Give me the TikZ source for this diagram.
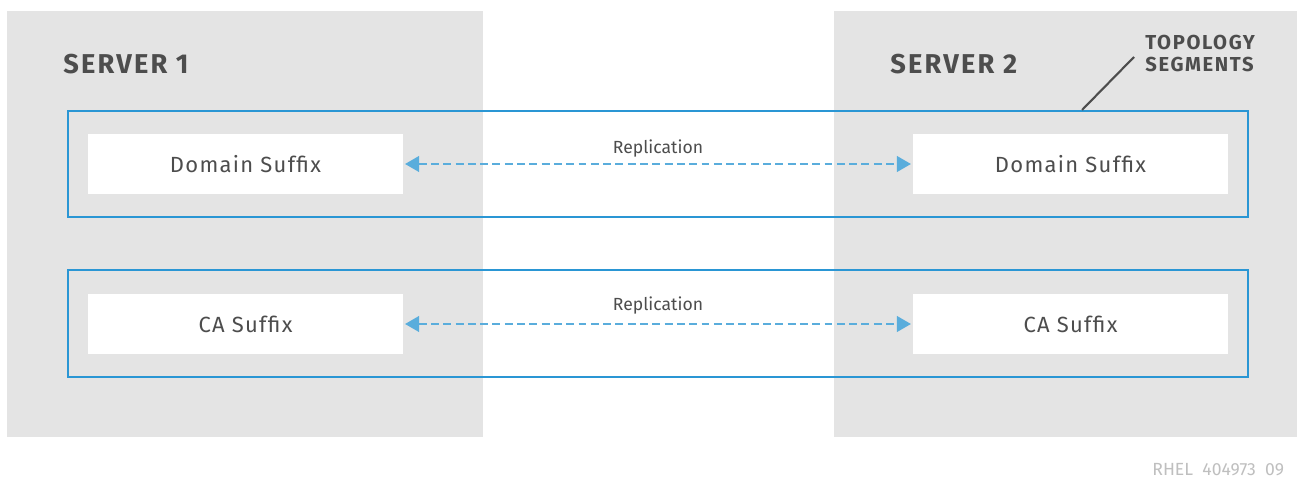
\documentclass[tikz,border=0pt]{standalone}
\usepackage{fontspec}
\setmainfont{Fira Sans}
\newfontfamily\widefont[LetterSpace=6]{Fira Sans}
\newfontfamily\headfont[LetterSpace=8]{Fira Sans}
\newfontfamily\notefont[LetterSpace=8]{Fira Sans}
\usetikzlibrary{arrows.meta}

\definecolor{panelgray}{HTML}{E4E4E4}
\definecolor{segblue}{HTML}{2A96D4}
\definecolor{repblue}{HTML}{5AADDC}
\definecolor{textgray}{HTML}{4D4D4D}

\tikzset{
  panel/.style={fill=panelgray, draw=none},
  segment/.style={draw=segblue, line width=1.2pt},
  suffix/.style={fill=white, draw=none, minimum width=6.3cm, minimum height=1.2cm,
    inner sep=0pt, text=textgray, font=\widefont\fontsize{12.5}{14}\selectfont},
  server/.style={text=textgray, font=\headfont\fontsize{15.5}{17}\selectfont\bfseries, inner sep=0pt},
  repl/.style={draw=repblue, line width=1pt, dash pattern=on 4.5pt off 2.5pt,
    {Triangle[length=8pt,width=9pt]}-{Triangle[length=8pt,width=9pt]}, shorten <=1pt, shorten >=1pt},
  repllabel/.style={text=textgray, font=\fontsize{10}{12}\selectfont, inner sep=0pt}
}

\begin{document}
\begin{tikzpicture}[x=0.02cm, y=-0.02cm]
\useasboundingbox (0,0) rectangle (1297,479);
\fill[white] (0,0) rectangle (1297,479);

% server panels
\fill[panel] (7,11) rectangle (483,437);
\fill[panel] (834,11) rectangle (1297,437);
\node[server, anchor=west] (srv1) at (63,64) {SERVER 1};
\node[server, anchor=west] (srv2) at (890,64) {SERVER 2};

% topology segments
\draw[segment] (68,111) rectangle (1248,217);
\draw[segment] (68,270) rectangle (1248,377);
\node[server, anchor=north west, align=left, font=\notefont\fontsize{11.5}{12.5}\selectfont\bfseries]
  (topo) at (1145,35) {TOPOLOGY\\SEGMENTS};
\coordinate (tip) at (1082,110);
\coordinate (bend) at (1134,57);
\draw[textgray, line width=1.2pt] (tip) -- (bend);

% suffixes
\node[suffix] (dom1) at (245.5,164) {Domain Suffix};
\node[suffix] (dom2) at (1070.5,164) {Domain Suffix};
\node[suffix] (ca1) at (245.5,324) {CA Suffix};
\node[suffix] (ca2) at (1070.5,324) {CA Suffix};

% replication
\draw[repl] (dom1) -- (dom2);
\draw[repl] (ca1) -- (ca2);
\node[repllabel] (rep1) at (658,149) {Replication};
\node[repllabel] (rep2) at (658,306) {Replication};

\node[anchor=west, text=black!25, font=\fontsize{10}{12}\selectfont, inner sep=0pt]
  (tag) at (1152,470) {RHEL\ \ 404973\ \ 09};
\end{tikzpicture}
\end{document}
